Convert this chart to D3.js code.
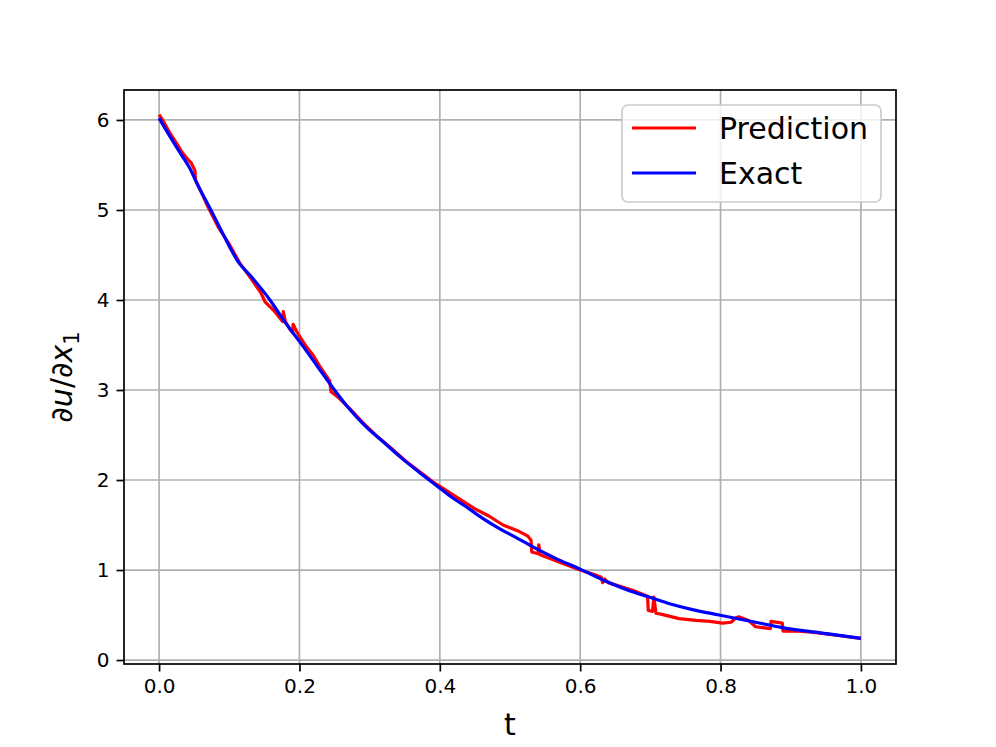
<!DOCTYPE html>
<html>
<head>
<meta charset="utf-8">
<script src="https://cdn.jsdelivr.net/npm/d3@7"></script>
<style>
  body { margin: 0; background: #fff; }
  text { font-family: "DejaVu Sans", sans-serif; }
</style>
</head>
<body>
<div class="chart"></div>
<script>
var W = 996, H = 747;
var margin = {top: 90, right: 100, bottom: 83, left: 124};
var width = W - margin.left - margin.right;
var height = H - margin.top - margin.bottom;

// exact solution
let exactT = [0, 0.02, 0.032, 0.044, 0.053, 0.0725, 0.09, 0.114, 0.129, 0.158, 0.177, 0.2, 0.225, 0.248, 0.27, 0.295, 0.32, 0.343, 0.37, 0.395, 0.415, 0.438, 0.46, 0.485, 0.51, 0.532, 0.565, 0.6, 0.635, 0.67, 0.698, 0.73, 0.76, 0.798, 0.85, 0.888, 0.954, 1.0];
let exactY = [6.02, 5.76, 5.61, 5.46, 5.31, 5.02, 4.75, 4.41, 4.28, 4.0, 3.78, 3.54, 3.27, 3.02, 2.8, 2.59, 2.42, 2.26, 2.09, 1.94, 1.82, 1.70, 1.58, 1.46, 1.355, 1.26, 1.13, 1.01, 0.88, 0.77, 0.70, 0.62, 0.56, 0.50, 0.42, 0.36, 0.29, 0.24];

// network prediction
let predT = [0, 0.005, 0.015, 0.025, 0.032, 0.04, 0.046, 0.051, 0.052, 0.06, 0.07, 0.085, 0.1, 0.115, 0.13, 0.145, 0.151, 0.165, 0.172, 0.176, 0.177, 0.18, 0.186, 0.19, 0.191, 0.196, 0.2, 0.21, 0.22, 0.23, 0.243, 0.245, 0.255, 0.272, 0.29, 0.31, 0.33, 0.35, 0.37, 0.39, 0.41, 0.43, 0.45, 0.47, 0.49, 0.51, 0.525, 0.53, 0.531, 0.54, 0.541, 0.543, 0.556, 0.58, 0.6, 0.62, 0.63, 0.632, 0.635, 0.64, 0.66, 0.68, 0.696, 0.697, 0.703, 0.705, 0.708, 0.715, 0.741, 0.765, 0.785, 0.803, 0.815, 0.822, 0.826, 0.84, 0.85, 0.86, 0.871, 0.872, 0.888, 0.889, 0.91, 0.93, 0.95, 0.97, 1.0];
let predY = [6.06, 6.0, 5.86, 5.74, 5.65, 5.57, 5.52, 5.44, 5.33, 5.2, 5.03, 4.8, 4.62, 4.41, 4.25, 4.08, 3.98, 3.87, 3.8, 3.76, 3.87, 3.76, 3.68, 3.64, 3.73, 3.65, 3.6, 3.48, 3.38, 3.25, 3.1, 2.98, 2.92, 2.79, 2.64, 2.49, 2.36, 2.22, 2.1, 1.98, 1.88, 1.78, 1.68, 1.6, 1.5, 1.44, 1.38, 1.33, 1.2, 1.18, 1.28, 1.17, 1.13, 1.06, 1.0, 0.95, 0.92, 0.86, 0.9, 0.86, 0.81, 0.76, 0.71, 0.55, 0.54, 0.70, 0.52, 0.51, 0.46, 0.44, 0.43, 0.41, 0.42, 0.47, 0.48, 0.44, 0.37, 0.36, 0.35, 0.43, 0.41, 0.32, 0.32, 0.31, 0.29, 0.27, 0.24];

let xTicks = [0, 0.2, 0.4, 0.6, 0.8, 1.0];
let yTicks = [0, 1, 2, 3, 4, 5, 6];
let seriesNames = ['Prediction', 'Exact'];
let seriesColors = ['#ff0000', '#0000ff'];

let exact = exactT.map((t, i) => [t, exactY[i]]);
let pred = predT.map((t, i) => [t, predY[i]]);

let svg = d3.select('.chart')
  .append('svg')
  .attr('width', W)
  .attr('height', H)
  .append('g')
  .attr('transform', `translate(${margin.left}, ${margin.top})`);

let xScale = d3.scaleLinear().domain([-0.05, 1.05]).range([0, width]);
let yScale = d3.scaleLinear().domain([-0.044, 6.333]).range([height, 0]);

// grid
svg.append('g').selectAll('line')
  .data(xTicks).enter().append('line')
  .attr('x1', d => xScale(d)).attr('x2', d => xScale(d))
  .attr('y1', 0).attr('y2', height)
  .style('stroke', '#b0b0b0').style('stroke-width', 1.7);
svg.append('g').selectAll('line')
  .data(yTicks).enter().append('line')
  .attr('y1', d => yScale(d)).attr('y2', d => yScale(d))
  .attr('x1', 0).attr('x2', width)
  .style('stroke', '#b0b0b0').style('stroke-width', 1.7);

// lines
let line = d3.line().x(d => xScale(d[0])).y(d => yScale(d[1]));
svg.append('path').datum(pred)
  .attr('d', line)
  .style('fill', 'none').style('stroke', seriesColors[0])
  .style('stroke-width', 3.2).style('stroke-linejoin', 'round');
svg.append('path').datum(exact)
  .attr('d', line.curve(d3.curveMonotoneX))
  .style('fill', 'none').style('stroke', seriesColors[1])
  .style('stroke-width', 3.2).style('stroke-linejoin', 'round');

// axes
let xAxis = d3.axisBottom(xScale).tickValues(xTicks).tickFormat(d3.format('.1f')).tickSizeOuter(0).tickSize(7.5).tickPadding(7);
let yAxis = d3.axisLeft(yScale).tickValues(yTicks).tickFormat(d3.format('d')).tickSizeOuter(0).tickSize(7.5).tickPadding(7);

let gx = svg.append('g').attr('transform', `translate(0, ${height})`).call(xAxis);
let gy = svg.append('g').call(yAxis);
[gx, gy].forEach(g => {
  g.select('.domain').remove();
  g.selectAll('line').style('stroke', '#000').style('stroke-width', 1.7);
  g.selectAll('text').style('font-size', '20px').style('fill', '#000').style('font-family', 'DejaVu Sans');
});

// frame
svg.append('rect')
  .attr('width', width).attr('height', height)
  .style('fill', 'none').style('stroke', '#000').style('stroke-width', 1.7);

// axis labels
svg.append('text')
  .attr('x', width / 2).attr('y', height + 71)
  .style('text-anchor', 'middle').style('font-size', '30px')
  .text('t');

let yl = svg.append('text')
  .attr('transform', `translate(-52, ${height / 2}) rotate(-90)`)
  .style('text-anchor', 'middle').style('font-size', '30px');
yl.append('tspan').text('∂');
yl.append('tspan').style('font-style', 'oblique').text('u');
yl.append('tspan').text('/∂');
yl.append('tspan').style('font-style', 'oblique').text('x');
yl.append('tspan').attr('dy', 7).style('font-size', '21px').text('1');

// legend
let lg = svg.append('g').attr('transform', `translate(${622 - margin.left}, ${105 - margin.top})`);
lg.append('rect')
  .attr('width', 259).attr('height', 97).attr('rx', 6)
  .style('fill', 'rgba(255,255,255,0.8)').style('stroke', '#cccccc').style('stroke-width', 1.7);
let items = lg.selectAll('.item')
  .data(seriesNames).enter().append('g')
  .attr('transform', (d, i) => `translate(0, ${23 + i * 45})`);
items.append('line')
  .attr('x1', 10).attr('x2', 74)
  .style('stroke', (d, i) => seriesColors[i]).style('stroke-width', 3.2);
items.append('text')
  .attr('x', 97).attr('y', 10.5)
  .style('font-size', '30px').style('fill', '#000')
  .text(d => d);
</script>
</body>
</html>
